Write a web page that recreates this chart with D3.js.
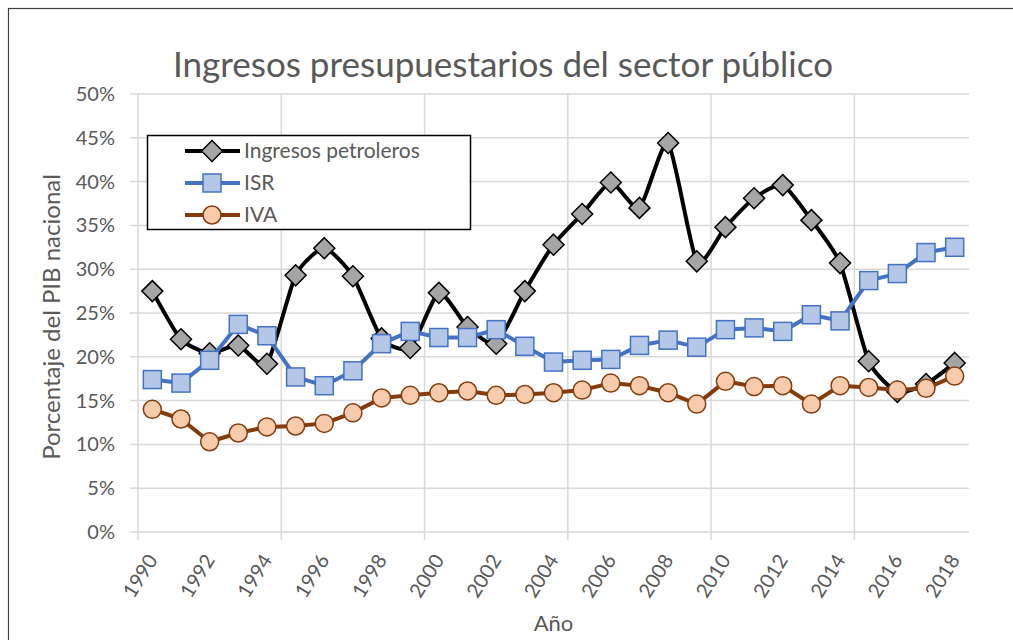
<!DOCTYPE html>
<html>
<head>
<meta charset="utf-8">
<script src="https://cdn.jsdelivr.net/npm/d3@7"></script>
<style>
  body { margin: 0; background: #fff; }
  text { font-family: Lato, "Open Sans", sans-serif; fill: #595959; }
</style>
</head>
<body>
<div id="chart"></div>
<script>
// Datos del grafico (porcentaje del PIB)
const years = d3.range(1990, 2019);
const petroleros = [27.5, 22.0, 20.4, 21.3, 19.2, 29.3, 32.4, 29.2, 22.1, 21.0,
                    27.3, 23.4, 21.5, 27.5, 32.8, 36.3, 39.9, 37.0, 44.4, 30.9,
                    34.8, 38.1, 39.6, 35.6, 30.7, 19.5, 16.0, 16.9, 19.3];
const isr = [17.4, 17.0, 19.6, 23.7, 22.4, 17.7, 16.7, 18.4, 21.5, 22.9,
             22.2, 22.2, 23.1, 21.2, 19.4, 19.6, 19.7, 21.3, 21.9, 21.1,
             23.1, 23.3, 22.9, 24.8, 24.1, 28.7, 29.5, 31.9, 32.5];
const iva = [14.0, 12.9, 10.3, 11.3, 12.0, 12.1, 12.4, 13.6, 15.3, 15.6,
             15.9, 16.1, 15.6, 15.7, 15.9, 16.2, 17.0, 16.7, 15.9, 14.6,
             17.2, 16.6, 16.7, 14.6, 16.7, 16.5, 16.2, 16.4, 17.8];
const yTicks = [0, 5, 10, 15, 20, 25, 30, 35, 40, 45, 50];
const labelYears = years.filter(y => (y - 1990) % 2 === 0);
const gridYears = years.filter(y => (y - 1990) % 5 === 0);

const width = 1013, height = 640;
const plot = {left: 138, right: 969, top: 94, bottom: 532};

const svg = d3.select('#chart').append('svg')
    .attr('width', width)
    .attr('height', height);

// marco exterior (solo se ven el borde superior e izquierdo)
svg.append('rect')
    .attr('x', 8.5).attr('y', 8.5)
    .attr('width', 1100).attr('height', 700)
    .attr('fill', 'none')
    .attr('stroke', '#404040')
    .attr('stroke-width', 1.2);

const x = d3.scaleBand()
    .domain(years)
    .range([plot.left, plot.right]);

const y = d3.scaleLinear()
    .domain([0, 50])
    .range([plot.bottom, plot.top]);

const cx = d => x(d) + x.bandwidth() / 2;

// lineas de cuadricula horizontales con marca hacia fuera
svg.append('g')
    .selectAll('line')
    .data(yTicks)
    .enter().append('line')
    .attr('x1', plot.left - 8).attr('x2', plot.right)
    .attr('y1', d => y(d)).attr('y2', d => y(d))
    .attr('stroke', '#d9d9d9')
    .attr('stroke-width', 1.5);

// lineas verticales cada 5 anios
svg.append('g')
    .selectAll('line')
    .data(gridYears)
    .enter().append('line')
    .attr('x1', d => x(d)).attr('x2', d => x(d))
    .attr('y1', plot.top).attr('y2', plot.bottom + 8)
    .attr('stroke', '#d9d9d9')
    .attr('stroke-width', 1.5);

// etiquetas eje Y
svg.append('g')
    .selectAll('text')
    .data(yTicks)
    .enter().append('text')
    .attr('x', plot.left - 23)
    .attr('y', d => y(d))
    .attr('dy', '0.35em')
    .attr('text-anchor', 'end')
    .style('font-size', '20px')
    .text(d => d + '%');

// etiquetas eje X, rotadas
svg.append('g')
    .selectAll('text')
    .data(labelYears)
    .enter().append('text')
    .attr('text-anchor', 'end')
    .attr('transform', d => `translate(${cx(d) + 6},${plot.bottom + 28}) rotate(-58)`)
    .style('font-size', '20px')
    .text(d => d);

// titulo
svg.append('text')
    .attr('x', 503)
    .attr('y', 77)
    .attr('text-anchor', 'middle')
    .style('font-size', '35px')
    .text('Ingresos presupuestarios del sector público');

// titulos de ejes
svg.append('text')
    .attr('transform', `translate(60,${(plot.top + plot.bottom) / 2 + 4}) rotate(-90)`)
    .attr('text-anchor', 'middle')
    .style('font-size', '24px')
    .text('Porcentaje del PIB nacional');

svg.append('text')
    .attr('x', (plot.left + plot.right) / 2)
    .attr('y', 631)
    .attr('text-anchor', 'middle')
    .style('font-size', '22px')
    .text('Año');

// series
const series = [
    {name: 'Ingresos petroleros', values: petroleros, line: '#000000', fill: '#a5a5a5', stroke: '#000000', shape: 'diamond', curve: d3.curveCardinal.tension(0.4)},
    {name: 'ISR', values: isr, line: '#4472c4', fill: '#b4c7e7', stroke: '#4472c4', shape: 'square', curve: d3.curveLinear},
    {name: 'IVA', values: iva, line: '#843c0c', fill: '#f8cbad', stroke: '#843c0c', shape: 'circle', curve: d3.curveLinear}
];

function drawMarker(g, shape, fill, stroke) {
    if (shape === 'diamond') {
        g.append('path')
            .attr('d', 'M0,-10.5L10.5,0L0,10.5L-10.5,0Z')
            .attr('fill', fill).attr('stroke', stroke).attr('stroke-width', 1.5);
    } else if (shape === 'square') {
        g.append('rect')
            .attr('x', -9).attr('y', -9).attr('width', 18).attr('height', 18)
            .attr('fill', fill).attr('stroke', stroke).attr('stroke-width', 1.5);
    } else {
        g.append('circle')
            .attr('r', 9)
            .attr('fill', fill).attr('stroke', stroke).attr('stroke-width', 1.5);
    }
}

series.forEach(s => {
    const line = d3.line()
        .x((d, i) => cx(years[i]))
        .y(d => y(d))
        .curve(s.curve);
    const g = svg.append('g');
    g.append('path')
        .datum(s.values)
        .attr('d', line)
        .attr('fill', 'none')
        .attr('stroke', s.line)
        .attr('stroke-width', 4)
        .attr('stroke-linejoin', 'round');
    s.values.forEach((v, i) => {
        const m = g.append('g').attr('transform', `translate(${cx(years[i])},${y(v)})`);
        drawMarker(m, s.shape, s.fill, s.stroke);
    });
});

// leyenda
const legend = svg.append('g');
legend.append('rect')
    .attr('x', 147.5).attr('y', 135.5)
    .attr('width', 323).attr('height', 94)
    .attr('fill', '#fff')
    .attr('stroke', '#000')
    .attr('stroke-width', 1.5);

series.forEach((s, i) => {
    const ly = 151 + i * 32;
    legend.append('line')
        .attr('x1', 185).attr('x2', 240)
        .attr('y1', ly).attr('y2', ly)
        .attr('stroke', s.line).attr('stroke-width', 4);
    const m = legend.append('g').attr('transform', `translate(212,${ly})`);
    drawMarker(m, s.shape, s.fill, s.stroke);
    legend.append('text')
        .attr('x', 244).attr('y', ly)
        .attr('dy', '0.35em')
        .style('font-size', '21px')
        .text(s.name);
});
</script>
</body>
</html>
